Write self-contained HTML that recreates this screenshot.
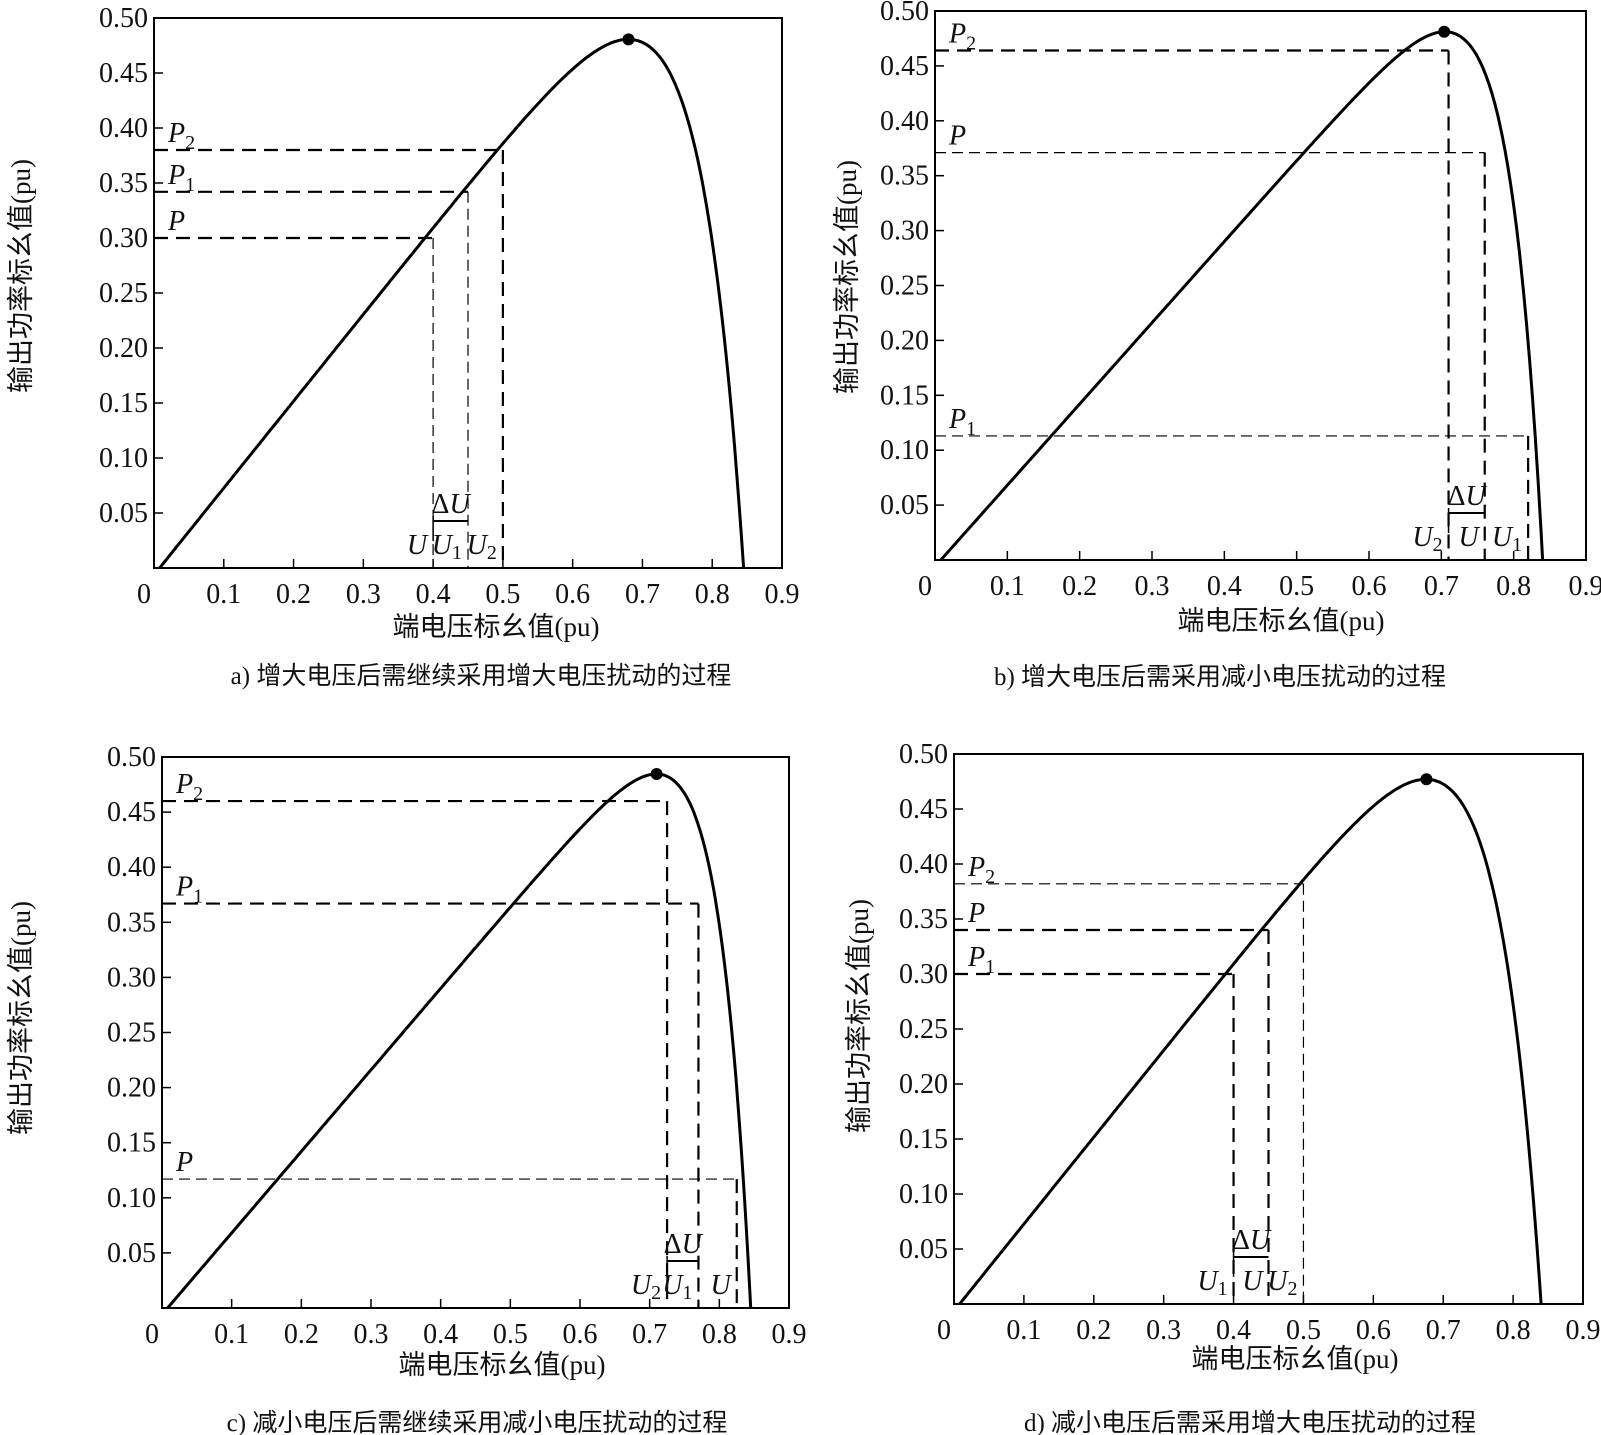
<!DOCTYPE html>
<html><head><meta charset="utf-8">
<style>
html,body{margin:0;padding:0;background:#fff;}
svg{display:block;}
text{font-family:"Liberation Serif","Noto Serif CJK SC",serif;fill:#111;}
.cn{font-family:"Liberation Serif","Noto Sans CJK SC",sans-serif;}
</style></head>
<body>
<svg id="s" width="1601" height="1435" viewBox="0 0 1601 1435" xmlns="http://www.w3.org/2000/svg"></svg>
<script>
const S=document.getElementById('s');let h='';
function panel(o){
 const X=v=>o.x0+(o.x9-o.x0)*v/0.9, Y=p=>o.y0-(o.y0-o.y5)*p/0.5;
 h+=`<rect x="${o.x0}" y="${o.y5}" width="${o.x9-o.x0}" height="${o.y0-o.y5}" fill="none" stroke="#000" stroke-width="2"/>`;
 for(let i=1;i<=9;i++){const x=X(i/10);h+=`<line x1="${x}" y1="${o.y0}" x2="${x}" y2="${o.y0-9}" stroke="#000" stroke-width="1.5"/>`;
  h+=`<text x="${x}" y="${o.y0+35}" font-size="28" text-anchor="middle">0.${i}</text>`;}
 h+=`<text x="${o.x0-10}" y="${o.y0+35}" font-size="28" text-anchor="middle">0</text>`;
 for(let i=1;i<=10;i++){const y=Y(i*0.05);h+=`<line x1="${o.x0}" y1="${y}" x2="${o.x0+9}" y2="${y}" stroke="#000" stroke-width="1.5"/>`;
  h+=`<text x="${o.x0-6}" y="${y+9}" font-size="28" text-anchor="end">${(i*0.05).toFixed(2)}</text>`;}
 let pts=[],best=[0,0];
 for(let v=0.008;v<=o.voc;v+=0.002){let p=(v-0.008)*o.isc*(1-Math.exp((v-o.voc)/o.a));if(p<0)p=0;pts.push(X(v).toFixed(1)+','+Y(p).toFixed(1));if(p>best[1])best=[v,p];}
 pts.push(X(o.voc).toFixed(1)+','+Y(0).toFixed(1));
 h+=`<polyline points="${pts.join(' ')}" fill="none" stroke="#000" stroke-width="3"/>`;
 h+=`<circle cx="${X(best[0])}" cy="${Y(best[1])}" r="6" fill="#000"/>`;
 o.lines.forEach(l=>{const th=l.t?2.2:1.2,da=l.t?'14 8':'11 6';
  h+=`<line x1="${o.x0}" y1="${Y(l.p)}" x2="${X(l.u)}" y2="${Y(l.p)}" stroke="#000" stroke-width="${th}" stroke-dasharray="${da}"/>`;
  h+=`<line x1="${X(l.u)}" y1="${Y(l.p)}" x2="${X(l.u)}" y2="${o.y0}" stroke="#000" stroke-width="${l.vt?2.2:1.2}" stroke-dasharray="${l.vt?'14 8':'11 6'}"/>`;
  h+=`<text x="${o.x0+14}" y="${Y(l.p)-8}" font-size="28" font-style="italic">P<tspan font-size="20" dy="7" font-style="normal">${l.s}</tspan></text>`;
  h+=`<text x="${X(l.u)-6}" y="${o.y0-14}" font-size="28" font-style="italic" text-anchor="end">U<tspan font-size="20" dy="5" font-style="normal">${l.s}</tspan></text>`;
 });
 const a1=X(o.d[0]),a2=X(o.d[1]),ay=o.y0-47;
 h+=`<line x1="${a1}" y1="${ay}" x2="${a2}" y2="${ay}" stroke="#000" stroke-width="2"/><line x1="${a1}" y1="${ay-5}" x2="${a1}" y2="${ay+20}" stroke="#000" stroke-width="1.5"/>`;
 h+=`<text x="${(a1+a2)/2}" y="${ay-8}" font-size="28" text-anchor="middle">Δ<tspan font-style="italic">U</tspan></text>`;
 h+=`<text class="cn" x="${o.xl[0]}" y="${o.xl[1]}" font-size="27" text-anchor="middle">端电压标幺值(pu)</text>`;
 h+=`<text class="cn" transform="translate(${o.yl[0]},${o.yl[1]}) rotate(-90)" font-size="27" text-anchor="middle">输出功率标幺值(pu)</text>`;
 h+=`<text class="cn" x="${o.cap[0]}" y="${o.cap[1]}" font-size="25" text-anchor="middle">${o.c}</text>`;
}
panel({x0:154,x9:782,y5:18,y0:568,voc:0.845,isc:0.79,a:0.07,
 lines:[{p:0.30,u:0.4,s:'',t:1},{p:0.342,u:0.45,s:'1',t:1},{p:0.38,u:0.5,s:'2',t:1,vt:1}],d:[0.4,0.45],
 xl:[496,636],yl:[30,276],cap:[481,684],c:'a) 增大电压后需继续采用增大电压扰动的过程'});
panel({x0:935,x9:1586,y5:11,y0:560,voc:0.84,isc:0.74,a:0.05,
 lines:[{p:0.464,u:0.71,s:'2',t:1,vt:1},{p:0.371,u:0.76,s:'',t:0,vt:1},{p:0.113,u:0.82,s:'1',t:0,vt:1}],d:[0.71,0.76],
 xl:[1281,630],yl:[856,277],cap:[1220,685],c:'b) 增大电压后需采用减小电压扰动的过程'});
panel({x0:162,x9:789,y5:757,y0:1308,voc:0.845,isc:0.74,a:0.05,
 lines:[{p:0.46,u:0.725,s:'2',t:1,vt:1},{p:0.367,u:0.77,s:'1',t:1,vt:1},{p:0.117,u:0.825,s:'',t:0,vt:1}],d:[0.725,0.77],
 xl:[502,1374],yl:[30,1018],cap:[477,1431],c:'c) 减小电压后需继续采用减小电压扰动的过程'});
panel({x0:954,x9:1583,y5:754,y0:1304,voc:0.84,isc:0.79,a:0.07,
 lines:[{p:0.382,u:0.5,s:'2',t:0,vt:0},{p:0.34,u:0.45,s:'',t:1,vt:1},{p:0.30,u:0.4,s:'1',t:1,vt:1}],d:[0.4,0.45],
 xl:[1295,1368],yl:[868,1016],cap:[1250,1431],c:'d) 减小电压后需采用增大电压扰动的过程'});
S.innerHTML=h;
</script>
</body></html>
